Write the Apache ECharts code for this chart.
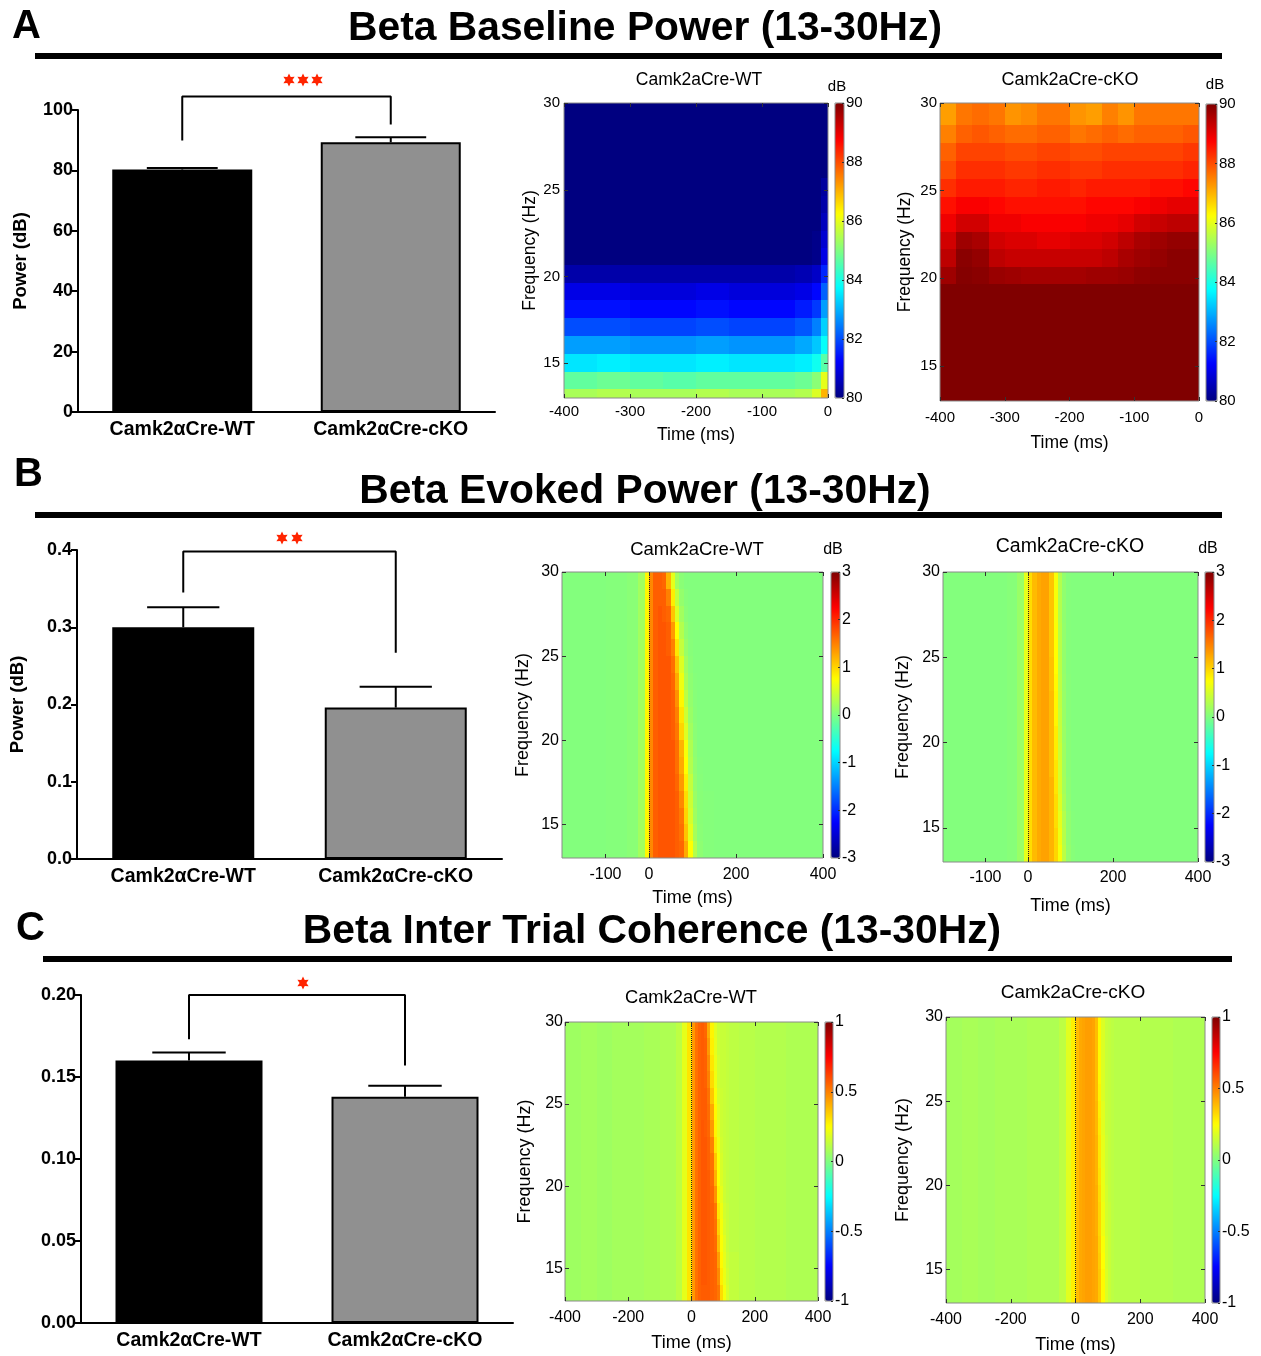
<!DOCTYPE html>
<html><head><meta charset="utf-8">
<script src="https://cdn.jsdelivr.net/npm/echarts@6/dist/echarts.min.js"></script>
<style>html,body{margin:0;padding:0;background:#fff}#c{width:1261px;height:1356px}</style>
</head><body><div id="c"></div>
<script>
// ================= DATA =================
const groups = ['Camk2\u03b1Cre-WT', 'Camk2\u03b1Cre-cKO'];

const baselineMean = [80.3, 89.3];
const baselineSem = [0.5, 1.7];
const baselineBracket = [89.9, 104.5, 95.2];   // left leg end, top, right leg end
const baselineTicks = [0, 20, 40, 60, 80, 100];

const evokedMean = [0.300, 0.196];
const evokedSem = [0.026, 0.027];
const evokedBracket = [0.345, 0.398, 0.267];
const evokedTicks = [0, 0.1, 0.2, 0.3, 0.4];

const itcMean = [0.160, 0.138];
const itcSem = [0.005, 0.0067];
const itcBracket = [0.173, 0.200, 0.157];
const itcTicks = [0, 0.05, 0.10, 0.15, 0.20];

const freqTicks = [15, 20, 25, 30];
const baselineTimeTicks = [-400, -300, -200, -100, 0];
const evokedTimeTicks = [-100, 0, 200, 400];
const itcTimeTicks = [-400, -200, 0, 200, 400];
const baselineCbTicks = [80, 82, 84, 86, 88, 90];
const evokedCbTicks = [-3, -2, -1, 0, 1, 2, 3];
const itcCbTicks = [-1, -0.5, 0, 0.5, 1];

// Baseline power maps (dB); rows = frequency bins bottom->top
const baseFreqEdges = [13, 13.5, 14.5, 15.55, 16.6, 17.6, 18.65, 19.65, 20.65, 21.65, 22.65, 23.65, 24.65, 25.65, 26.7, 27.7, 28.75, 30];
const baseWTTimeEdges = [-400, -350, -300, -250, -200, -150, -100, -50, -25, -10, 0];
const baseWT = [
  [85.4,85.5,85.4,85.4,85.5,85.4,85.4,85.5,85.9,87.0],
  [84.7,84.8,84.7,84.6,84.7,84.7,84.7,84.8,85.1,86.0],
  [83.5,83.6,83.5,83.5,83.6,83.5,83.5,83.6,83.9,84.6],
  [82.8,82.8,82.7,82.7,82.8,82.7,82.7,82.9,83.2,83.8],
  [82.0,82.0,81.9,81.9,82.0,81.9,81.9,82.1,82.5,83.3],
  [81.4,81.4,81.3,81.3,81.4,81.3,81.3,81.5,81.8,82.8],
  [81.0,81.0,80.9,80.9,81.0,80.9,80.9,81.0,81.3,82.2],
  [80.4,80.4,80.4,80.4,80.4,80.4,80.4,80.5,80.7,81.6],
  [80.0,80.0,80.0,80.0,80.0,80.0,80.0,80.0,80.1,81.0],
  [80.0,80.0,80.0,80.0,80.0,80.0,80.0,80.0,80.1,80.8],
  [80.0,80.0,80.0,80.0,80.0,80.0,80.0,80.0,80.0,80.6],
  [80.0,80.0,80.0,80.0,80.0,80.0,80.0,80.0,80.0,80.4],
  [80.0,80.0,80.0,80.0,80.0,80.0,80.0,80.0,80.0,80.3],
  [80.0,80.0,80.0,80.0,80.0,80.0,80.0,80.0,80.0,80.0],
  [80.0,80.0,80.0,80.0,80.0,80.0,80.0,80.0,80.0,80.0],
  [80.0,80.0,80.0,80.0,80.0,80.0,80.0,80.0,80.0,80.0],
  [80.0,80.0,80.0,80.0,80.0,80.0,80.0,80.0,80.0,80.0]
];
const baseKOTimeEdges = [-400, -375, -350, -325, -300, -275, -250, -225, -200, -175, -150, -125, -100, -75, -50, -25, 0];
const baseKO = [
  [90,90,90,90,90,90,90,90,90,90,90,90,90,90,90,90],
  [90,90,90,90,90,90,90,90,90,90,90,90,90,90,90,90],
  [90,90,90,90,90,90,90,90,90,90,90,90,90,90,90,90],
  [90,90,90,90,90,90,90,90,90,90,90,90,90,90,90,90],
  [90,90,90,90,90,90,90,90,90,90,90,90,90,90,90,90],
  [90,90,90,90,90,90,90,90,90,90,90,90,90,90,90,90],
  [90,90,90,90,90,90,90,90,90,90,90,90,90,90,90,90],
  [89.7,89.95,89.9,89.75,89.7,89.65,89.65,89.65,89.65,89.7,89.7,89.75,89.85,89.9,89.9,89.9],
  [89.4,89.9,89.8,89.4,89.3,89.3,89.3,89.3,89.3,89.3,89.4,89.6,89.7,89.8,89.9,89.9],
  [89.2,89.7,89.6,89.2,89.1,89.1,89.0,89.0,89.1,89.1,89.2,89.4,89.6,89.7,89.8,89.8],
  [88.9,89.2,89.2,88.9,88.9,88.8,88.8,88.8,88.8,88.9,88.9,89.0,89.2,89.3,89.4,89.4],
  [88.6,88.8,88.8,88.7,88.6,88.6,88.6,88.6,88.6,88.7,88.7,88.7,88.8,88.9,89.0,89.0],
  [88.3,88.5,88.5,88.5,88.4,88.4,88.5,88.5,88.4,88.5,88.5,88.5,88.5,88.6,88.6,88.7],
  [88.0,88.3,88.3,88.3,88.2,88.2,88.3,88.3,88.2,88.2,88.3,88.3,88.3,88.3,88.3,88.4],
  [87.8,88.1,88.1,88.1,88.0,88.0,88.1,88.1,88.0,88.0,88.1,88.1,88.1,88.1,88.1,88.2],
  [87.5,87.8,87.9,87.8,87.7,87.7,87.8,87.8,87.6,87.7,87.8,87.7,87.8,87.8,87.8,87.9],
  [87.2,87.6,87.7,87.6,87.3,87.4,87.6,87.6,87.3,87.2,87.5,87.3,87.6,87.6,87.6,87.6]
];

// Evoked power maps (dB); rows = 1 Hz bins 13..30 bottom->top
const stimFreqEdges = [13,14,15,16,17,18,19,20,21,22,23,24,25,26,27,28,29,30];
const evokedTimeEdges = [-200,-150,-100,-50,-25,-10,0,10,20,30,40,50,60,70,80,90,100,110,125,150,200,250,300,350,400];
const evokedWT = [
  [0.02,0.02,0.03,0.06,0.2,0.8, 1.45,1.7,1.75,1.75,1.75,1.75,1.7,1.65,1.25,0.75,0.3,0.08,0.03, 0.02,0.02,0.02,0.02,0.02],
  [0.02,0.02,0.03,0.06,0.2,0.8, 1.45,1.7,1.75,1.75,1.75,1.75,1.7,1.6,1.1,0.6,0.22,0.06,0.03, 0.02,0.02,0.02,0.02,0.02],
  [0.02,0.02,0.03,0.06,0.2,0.8, 1.45,1.7,1.75,1.75,1.75,1.75,1.7,1.55,1.0,0.5,0.18,0.05,0.03, 0.02,0.02,0.02,0.02,0.02],
  [0.02,0.02,0.03,0.06,0.2,0.8, 1.45,1.7,1.75,1.75,1.75,1.75,1.7,1.45,0.95,0.45,0.15,0.05,0.03, 0.02,0.02,0.02,0.02,0.02],
  [0.02,0.02,0.03,0.06,0.2,0.8, 1.45,1.7,1.75,1.75,1.75,1.75,1.65,1.35,0.85,0.4,0.12,0.04,0.02, 0.02,0.02,0.02,0.02,0.02],
  [0.02,0.02,0.03,0.06,0.2,0.8, 1.45,1.7,1.75,1.75,1.75,1.75,1.6,1.25,0.75,0.3,0.1,0.03,0.02, 0.02,0.02,0.02,0.02,0.02],
  [0.02,0.02,0.03,0.06,0.2,0.8, 1.45,1.7,1.75,1.75,1.75,1.75,1.6,1.2,0.7,0.28,0.08,0.02,0.02, 0.02,0.02,0.02,0.02,0.02],
  [0.02,0.02,0.03,0.06,0.2,0.8, 1.45,1.7,1.75,1.75,1.75,1.7,1.55,1.0,0.55,0.2,0.06,0.02,0.02, 0.02,0.02,0.02,0.02,0.02],
  [0.02,0.02,0.03,0.06,0.2,0.8, 1.45,1.7,1.75,1.75,1.75,1.7,1.5,0.9,0.45,0.15,0.05,0.02,0.02, 0.02,0.02,0.02,0.02,0.02],
  [0.02,0.02,0.03,0.06,0.2,0.8, 1.45,1.7,1.75,1.75,1.75,1.7,1.4,0.8,0.35,0.12,0.04,0.02,0.02, 0.02,0.02,0.02,0.02,0.02],
  [0.02,0.02,0.03,0.06,0.2,0.8, 1.45,1.7,1.75,1.75,1.75,1.65,1.25,0.65,0.25,0.08,0.03,0.02,0.02, 0.02,0.02,0.02,0.02,0.02],
  [0.02,0.02,0.03,0.06,0.2,0.8, 1.45,1.7,1.75,1.75,1.75,1.6,1.1,0.55,0.2,0.06,0.02,0.02,0.02, 0.02,0.02,0.02,0.02,0.02],
  [0.02,0.02,0.03,0.06,0.2,0.8, 1.45,1.7,1.75,1.75,1.7,1.5,0.9,0.4,0.14,0.04,0.02,0.02,0.02, 0.02,0.02,0.02,0.02,0.02],
  [0.02,0.02,0.03,0.06,0.2,0.8, 1.45,1.7,1.75,1.75,1.7,1.35,0.75,0.3,0.1,0.03,0.02,0.02,0.02, 0.02,0.02,0.02,0.02,0.02],
  [0.02,0.02,0.03,0.06,0.2,0.8, 1.45,1.7,1.75,1.7,1.65,1.1,0.55,0.2,0.06,0.02,0.02,0.02,0.02, 0.02,0.02,0.02,0.02,0.02],
  [0.02,0.02,0.03,0.06,0.2,0.8, 1.45,1.7,1.7,1.7,1.5,0.85,0.4,0.12,0.04,0.02,0.02,0.02,0.02, 0.02,0.02,0.02,0.02,0.02],
  [0.02,0.02,0.03,0.06,0.2,0.8, 1.45,1.7,1.7,1.65,1.2,0.6,0.2,0.06,0.02,0.02,0.02,0.02,0.02, 0.02,0.02,0.02,0.02,0.02]
];
const evokedKO = [
  [0.02,0.02,0.02,0.04,0.15,0.6, 0.95,1.15,1.25,1.3,1.3,1.2,1.0,0.7,0.35,0.12,0.04,0.02,0.02, 0.02,0.02,0.02,0.02,0.02],
  [0.02,0.02,0.02,0.04,0.15,0.6, 0.95,1.15,1.25,1.3,1.3,1.2,1.0,0.65,0.32,0.1,0.03,0.02,0.02, 0.02,0.02,0.02,0.02,0.02],
  [0.02,0.02,0.02,0.04,0.15,0.6, 0.95,1.15,1.25,1.3,1.3,1.2,0.95,0.6,0.3,0.1,0.03,0.02,0.02, 0.02,0.02,0.02,0.02,0.02],
  [0.02,0.02,0.02,0.04,0.15,0.6, 0.95,1.15,1.25,1.3,1.3,1.2,0.95,0.55,0.25,0.08,0.02,0.02,0.02, 0.02,0.02,0.02,0.02,0.02],
  [0.02,0.02,0.02,0.04,0.15,0.6, 0.95,1.15,1.25,1.3,1.3,1.2,0.9,0.5,0.22,0.07,0.02,0.02,0.02, 0.02,0.02,0.02,0.02,0.02],
  [0.02,0.02,0.02,0.04,0.15,0.6, 0.95,1.15,1.25,1.3,1.3,1.15,0.9,0.5,0.2,0.06,0.02,0.02,0.02, 0.02,0.02,0.02,0.02,0.02],
  [0.02,0.02,0.02,0.04,0.15,0.6, 0.95,1.15,1.25,1.3,1.3,1.15,0.85,0.45,0.18,0.05,0.02,0.02,0.02, 0.02,0.02,0.02,0.02,0.02],
  [0.02,0.02,0.02,0.04,0.15,0.6, 0.95,1.15,1.25,1.3,1.3,1.15,0.85,0.42,0.16,0.05,0.02,0.02,0.02, 0.02,0.02,0.02,0.02,0.02],
  [0.02,0.02,0.02,0.04,0.15,0.6, 0.95,1.15,1.25,1.3,1.3,1.15,0.8,0.4,0.15,0.04,0.02,0.02,0.02, 0.02,0.02,0.02,0.02,0.02],
  [0.02,0.02,0.02,0.04,0.15,0.6, 0.95,1.15,1.25,1.3,1.3,1.15,0.8,0.38,0.14,0.04,0.02,0.02,0.02, 0.02,0.02,0.02,0.02,0.02],
  [0.02,0.02,0.02,0.04,0.15,0.6, 0.95,1.15,1.25,1.3,1.3,1.12,0.78,0.36,0.13,0.04,0.02,0.02,0.02, 0.02,0.02,0.02,0.02,0.02],
  [0.02,0.02,0.02,0.04,0.15,0.6, 0.95,1.15,1.25,1.3,1.3,1.12,0.75,0.35,0.12,0.03,0.02,0.02,0.02, 0.02,0.02,0.02,0.02,0.02],
  [0.02,0.02,0.02,0.04,0.15,0.6, 0.95,1.15,1.25,1.3,1.3,1.1,0.75,0.33,0.12,0.03,0.02,0.02,0.02, 0.02,0.02,0.02,0.02,0.02],
  [0.02,0.02,0.02,0.04,0.15,0.6, 0.95,1.15,1.25,1.3,1.3,1.1,0.72,0.32,0.11,0.03,0.02,0.02,0.02, 0.02,0.02,0.02,0.02,0.02],
  [0.02,0.02,0.02,0.04,0.15,0.6, 0.95,1.15,1.25,1.3,1.3,1.1,0.7,0.3,0.1,0.03,0.02,0.02,0.02, 0.02,0.02,0.02,0.02,0.02],
  [0.02,0.02,0.02,0.04,0.15,0.6, 0.95,1.15,1.25,1.3,1.3,1.1,0.7,0.3,0.1,0.03,0.02,0.02,0.02, 0.02,0.02,0.02,0.02,0.02],
  [0.02,0.02,0.02,0.04,0.15,0.6, 0.95,1.15,1.25,1.3,1.3,1.1,0.7,0.3,0.1,0.03,0.02,0.02,0.02, 0.02,0.02,0.02,0.02,0.02]
];

// Inter-trial coherence maps; rows = 1 Hz bins 13..30 bottom->top
const itcTimeEdges = [-400,-350,-300,-250,-200,-150,-100,-50,-30,-15,0,10,20,30,40,50,60,70,80,90,100,110,120,150,200,250,300,350,400];
const itcWT = [
  [0.06,0.07,0.06,0.07,0.07,0.08,0.09,0.12,0.2,0.3, 0.45,0.53,0.56,0.57,0.57,0.57,0.56,0.55,0.52,0.32,0.23,0.17,0.13, 0.11,0.1,0.1,0.09,0.09],
  [0.06,0.07,0.06,0.07,0.07,0.08,0.09,0.12,0.2,0.3, 0.45,0.53,0.56,0.58,0.58,0.57,0.56,0.55,0.48,0.28,0.21,0.16,0.13, 0.11,0.1,0.1,0.09,0.09],
  [0.06,0.07,0.06,0.07,0.07,0.08,0.09,0.12,0.2,0.3, 0.45,0.53,0.56,0.58,0.58,0.57,0.56,0.55,0.44,0.26,0.2,0.15,0.13, 0.11,0.1,0.1,0.09,0.09],
  [0.06,0.07,0.06,0.07,0.07,0.08,0.09,0.12,0.2,0.3, 0.45,0.53,0.56,0.58,0.58,0.57,0.56,0.54,0.38,0.24,0.19,0.14,0.12, 0.11,0.1,0.1,0.09,0.09],
  [0.06,0.07,0.06,0.07,0.07,0.08,0.09,0.12,0.2,0.3, 0.45,0.53,0.56,0.58,0.58,0.57,0.56,0.53,0.34,0.23,0.17,0.14,0.12, 0.11,0.1,0.1,0.09,0.09],
  [0.06,0.07,0.06,0.07,0.07,0.08,0.09,0.12,0.2,0.3, 0.45,0.53,0.56,0.58,0.58,0.57,0.56,0.52,0.3,0.22,0.16,0.14,0.12, 0.11,0.1,0.1,0.09,0.09],
  [0.06,0.07,0.06,0.07,0.07,0.08,0.09,0.12,0.2,0.3, 0.45,0.53,0.56,0.58,0.58,0.57,0.55,0.46,0.27,0.2,0.15,0.13,0.12, 0.11,0.1,0.1,0.09,0.09],
  [0.06,0.07,0.06,0.07,0.07,0.08,0.09,0.12,0.2,0.3, 0.45,0.53,0.56,0.58,0.58,0.57,0.54,0.4,0.25,0.18,0.15,0.13,0.12, 0.11,0.1,0.1,0.09,0.09],
  [0.06,0.07,0.06,0.07,0.07,0.08,0.09,0.12,0.2,0.3, 0.45,0.53,0.56,0.58,0.58,0.56,0.53,0.36,0.24,0.17,0.14,0.13,0.12, 0.11,0.1,0.1,0.09,0.09],
  [0.06,0.07,0.06,0.07,0.07,0.08,0.09,0.12,0.2,0.3, 0.45,0.53,0.56,0.58,0.58,0.56,0.5,0.3,0.22,0.16,0.14,0.13,0.12, 0.11,0.1,0.1,0.09,0.09],
  [0.06,0.07,0.06,0.07,0.07,0.08,0.09,0.12,0.2,0.3, 0.45,0.53,0.56,0.58,0.57,0.55,0.45,0.27,0.2,0.15,0.14,0.13,0.12, 0.11,0.1,0.1,0.09,0.09],
  [0.06,0.07,0.06,0.07,0.07,0.08,0.09,0.12,0.2,0.3, 0.45,0.53,0.56,0.57,0.57,0.54,0.42,0.26,0.19,0.15,0.14,0.13,0.12, 0.11,0.1,0.1,0.09,0.09],
  [0.06,0.07,0.06,0.07,0.07,0.08,0.09,0.12,0.2,0.3, 0.45,0.53,0.56,0.57,0.57,0.53,0.36,0.24,0.17,0.15,0.14,0.13,0.12, 0.11,0.1,0.1,0.09,0.09],
  [0.06,0.07,0.06,0.07,0.07,0.08,0.09,0.12,0.2,0.3, 0.45,0.53,0.56,0.57,0.56,0.5,0.32,0.22,0.16,0.14,0.14,0.13,0.12, 0.11,0.1,0.1,0.09,0.09],
  [0.06,0.07,0.06,0.07,0.07,0.08,0.09,0.12,0.2,0.3, 0.45,0.53,0.56,0.57,0.56,0.48,0.3,0.21,0.16,0.14,0.14,0.13,0.12, 0.11,0.1,0.1,0.09,0.09],
  [0.06,0.07,0.06,0.07,0.07,0.08,0.09,0.12,0.2,0.3, 0.45,0.53,0.56,0.57,0.56,0.45,0.28,0.2,0.15,0.14,0.14,0.13,0.12, 0.11,0.1,0.1,0.09,0.09],
  [0.06,0.07,0.06,0.07,0.07,0.08,0.09,0.12,0.2,0.3, 0.45,0.53,0.56,0.57,0.55,0.42,0.27,0.19,0.15,0.14,0.14,0.13,0.12, 0.11,0.1,0.1,0.09,0.09]
];
const itcKO = [
  [0.07,0.08,0.07,0.08,0.08,0.09,0.09,0.12,0.19,0.28, 0.38,0.42,0.43,0.44,0.44,0.43,0.42,0.36,0.26,0.18,0.14,0.12,0.11, 0.11,0.1,0.1,0.09,0.09],
  [0.07,0.08,0.07,0.08,0.08,0.09,0.09,0.12,0.19,0.28, 0.38,0.42,0.43,0.44,0.44,0.43,0.42,0.36,0.26,0.18,0.14,0.12,0.11, 0.11,0.1,0.1,0.09,0.09],
  [0.07,0.08,0.07,0.08,0.08,0.09,0.09,0.12,0.19,0.28, 0.38,0.42,0.43,0.44,0.44,0.43,0.42,0.35,0.25,0.17,0.14,0.12,0.11, 0.11,0.1,0.1,0.09,0.09],
  [0.07,0.08,0.07,0.08,0.08,0.09,0.09,0.12,0.19,0.28, 0.38,0.42,0.43,0.44,0.44,0.43,0.42,0.34,0.24,0.17,0.14,0.12,0.11, 0.11,0.1,0.1,0.09,0.09],
  [0.07,0.08,0.07,0.08,0.08,0.09,0.09,0.12,0.19,0.28, 0.38,0.42,0.43,0.44,0.44,0.43,0.41,0.33,0.22,0.16,0.14,0.12,0.11, 0.11,0.1,0.1,0.09,0.09],
  [0.07,0.08,0.07,0.08,0.08,0.09,0.09,0.12,0.19,0.28, 0.38,0.42,0.43,0.44,0.44,0.43,0.41,0.33,0.22,0.16,0.14,0.12,0.11, 0.11,0.1,0.1,0.09,0.09],
  [0.07,0.08,0.07,0.08,0.08,0.09,0.09,0.12,0.19,0.28, 0.38,0.42,0.43,0.44,0.44,0.43,0.41,0.32,0.21,0.16,0.13,0.12,0.11, 0.11,0.1,0.1,0.09,0.09],
  [0.07,0.08,0.07,0.08,0.08,0.09,0.09,0.12,0.19,0.28, 0.38,0.42,0.43,0.44,0.44,0.43,0.4,0.31,0.21,0.15,0.13,0.12,0.11, 0.11,0.1,0.1,0.09,0.09],
  [0.07,0.08,0.07,0.08,0.08,0.09,0.09,0.12,0.19,0.28, 0.38,0.42,0.43,0.44,0.44,0.43,0.4,0.3,0.2,0.15,0.13,0.12,0.11, 0.11,0.1,0.1,0.09,0.09],
  [0.07,0.08,0.07,0.08,0.08,0.09,0.09,0.12,0.19,0.28, 0.38,0.42,0.43,0.44,0.44,0.43,0.4,0.3,0.2,0.15,0.13,0.12,0.11, 0.11,0.1,0.1,0.09,0.09],
  [0.07,0.08,0.07,0.08,0.08,0.09,0.09,0.12,0.19,0.28, 0.38,0.42,0.43,0.44,0.44,0.43,0.39,0.29,0.19,0.14,0.13,0.12,0.11, 0.11,0.1,0.1,0.09,0.09],
  [0.07,0.08,0.07,0.08,0.08,0.09,0.09,0.12,0.19,0.28, 0.38,0.42,0.43,0.44,0.44,0.43,0.39,0.28,0.19,0.14,0.13,0.12,0.11, 0.11,0.1,0.1,0.09,0.09],
  [0.07,0.08,0.07,0.08,0.08,0.09,0.09,0.12,0.19,0.28, 0.38,0.42,0.43,0.44,0.44,0.43,0.38,0.27,0.18,0.14,0.13,0.12,0.11, 0.11,0.1,0.1,0.09,0.09],
  [0.07,0.08,0.07,0.08,0.08,0.09,0.09,0.12,0.19,0.28, 0.38,0.42,0.43,0.44,0.44,0.43,0.38,0.26,0.18,0.14,0.13,0.12,0.11, 0.11,0.1,0.1,0.09,0.09],
  [0.07,0.08,0.07,0.08,0.08,0.09,0.09,0.12,0.19,0.28, 0.38,0.42,0.43,0.44,0.44,0.43,0.38,0.26,0.18,0.14,0.13,0.12,0.11, 0.11,0.1,0.1,0.09,0.09],
  [0.07,0.08,0.07,0.08,0.08,0.09,0.09,0.12,0.19,0.28, 0.38,0.42,0.43,0.44,0.44,0.43,0.38,0.26,0.18,0.14,0.13,0.12,0.11, 0.11,0.1,0.1,0.09,0.09],
  [0.07,0.08,0.07,0.08,0.08,0.09,0.09,0.12,0.19,0.28, 0.38,0.42,0.43,0.44,0.44,0.43,0.38,0.26,0.18,0.14,0.13,0.12,0.11, 0.11,0.1,0.1,0.09,0.09]
];

// ================= BUILD =================
const FONT = "'Liberation Sans', Arial, Helvetica, sans-serif";
const jet = ['#000080','#0000ff','#0080ff','#00ffff','#80ff80','#ffff00','#ff8000','#ff0000','#800000'];

function cells(timeEdges, freqEdges, rows) {
  const out = [];
  rows.forEach((row, i) => row.forEach((v, j) => {
    out.push([timeEdges[j], timeEdges[j + 1], freqEdges[i], freqEdges[i + 1], v]);
  }));
  return out;
}

const option = { animation: false, backgroundColor: '#fff', grid: [], xAxis: [], yAxis: [], series: [], visualMap: [], graphic: [] };

function text(x, y, str, font, align, vAlign, fill) {
  option.graphic.push({ type: 'text', x: x, y: y, silent: true, z: 100,
    style: { text: str, font: font, fill: fill || '#000', align: align, verticalAlign: vAlign,
             textAlign: align, textVerticalAlign: vAlign } });
}
function star(cx, cy) {
  const pts = [];
  for (let k = 0; k < 12; k++) {
    const a = -Math.PI / 2 + k * Math.PI / 6;
    const r = k % 2 === 0 ? 6.5 : 3.4;
    pts.push([cx + r * Math.cos(a), cy + r * Math.sin(a)]);
  }
  option.graphic.push({ type: 'polygon', silent: true, z: 100, shape: { points: pts }, style: { fill: '#ff2400' } });
}

// ---------- bar panels ----------
const barPanels = [
  { rect: [78, 110, 417, 302], mean: baselineMean, sem: baselineSem, bracket: baselineBracket, ticks: baselineTicks, dec: 0,
    name: 'Power (dB)', nameGap: 48, barWidth: 140, stars: [[289, 80], [303, 80], [317, 80]] },
  { rect: [77, 550, 425, 309], mean: evokedMean, sem: evokedSem, bracket: evokedBracket, ticks: evokedTicks, dec: 1,
    name: 'Power (dB)', nameGap: 50, barWidth: 142, stars: [[282, 538], [297, 538]] },
  { rect: [81, 995, 432, 328], mean: itcMean, sem: itcSem, bracket: itcBracket, ticks: itcTicks, dec: 2,
    name: '', nameGap: 50, barWidth: 147, stars: [[303, 983]] }
];

barPanels.forEach(p => {
  const g = option.grid.length;
  option.grid.push({ left: p.rect[0], top: p.rect[1], width: p.rect[2], height: p.rect[3] });
  const xi = option.xAxis.length, yi = option.yAxis.length;
  option.xAxis.push({ gridIndex: g, type: 'category', data: groups,
    axisLine: { lineStyle: { color: '#000', width: 2 } },
    axisTick: { alignWithLabel: true, length: 6, lineStyle: { color: '#000', width: 2 } },
    axisLabel: { color: '#000', fontFamily: FONT, fontWeight: 'bold', fontSize: 19.5, margin: 8 } });
  const t = p.ticks;
  option.yAxis.push({ gridIndex: g, type: 'value', min: t[0], max: t[t.length - 1], interval: t[1] - t[0],
    axisLine: { show: true, onZero: false, lineStyle: { color: '#000', width: 2 } },
    axisTick: { show: true, length: 6, lineStyle: { color: '#000', width: 2 } },
    splitLine: { show: false },
    axisLabel: { color: '#000', fontFamily: FONT, fontWeight: 'bold', fontSize: 18, margin: 5,
                 formatter: v => v.toFixed(p.dec) },
    name: p.name, nameLocation: 'middle', nameRotate: 90, nameGap: p.nameGap,
    nameTextStyle: { color: '#000', fontFamily: FONT, fontWeight: 'bold', fontSize: 18.5 } });
  option.series.push({ type: 'bar', xAxisIndex: xi, yAxisIndex: yi, barWidth: p.barWidth, z: 2,
    data: p.mean.map((v, i) => ({ value: v, itemStyle: i === 0
      ? { color: '#000', borderColor: '#000', borderWidth: 2 }
      : { color: '#909090', borderColor: '#000', borderWidth: 2 } })) });
  option.series.push({ type: 'custom', xAxisIndex: xi, yAxisIndex: yi, z: 3, clip: false,
    encode: { x: 0, y: [1, 2] },
    data: p.mean.map((m, i) => [i, m, m + p.sem[i]]),
    renderItem: (params, api) => {
      const x = api.value(0);
      const lo = api.coord([x, api.value(1)]);
      const hi = api.coord([x, api.value(2)]);
      const half = api.size([1, 0])[0] * 0.17;
      return { type: 'group', children: [
        { type: 'line', shape: { x1: lo[0], y1: lo[1], x2: hi[0], y2: hi[1] }, style: { stroke: '#000', lineWidth: 2 } },
        { type: 'line', shape: { x1: hi[0] - half, y1: hi[1], x2: hi[0] + half, y2: hi[1] }, style: { stroke: '#000', lineWidth: 2 } }
      ] };
    } });
  const b = p.bracket;
  option.series.push({ type: 'line', xAxisIndex: xi, yAxisIndex: yi, z: 4, clip: false, symbol: 'none', silent: true,
    lineStyle: { color: '#000', width: 2 },
    data: [[0, b[0]], [0, b[1]], [1, b[1]], [1, b[2]]] });
  p.stars.forEach(s => star(s[0], s[1]));
});

// ---------- heatmap panels ----------
const heatPanels = [
  { title: 'Camk2aCre-WT', titlePos: [699, 80], titleSize: 17.5, dB: [837, 87],
    rect: [564, 103, 264, 295], cb: [835, 103, 9, 295], t: [-400, 0], tTicks: baselineTimeTicks,
    data: cells(baseWTTimeEdges, baseFreqEdges, baseWT), cbTicks: baselineCbTicks,
    font: 15, nameFont: 17.5, xm: 6, xng: 28, ym: 4, yng: 25, zero: false },
  { title: 'Camk2aCre-cKO', titlePos: [1070, 80], titleSize: 18, dB: [1215, 85],
    rect: [940, 103, 259, 298], cb: [1206, 104, 11, 297], t: [-400, 0], tTicks: baselineTimeTicks,
    data: cells(baseKOTimeEdges, baseFreqEdges, baseKO), cbTicks: baselineCbTicks,
    font: 15, nameFont: 17.5, xm: 9, xng: 33, ym: 3, yng: 26, zero: false },
  { title: 'Camk2aCre-WT', titlePos: [697, 550], titleSize: 18.5, dB: [833, 550],
    rect: [562, 572, 261, 286], cb: [831, 572, 9, 286], t: [-200, 400], tTicks: evokedTimeTicks,
    data: cells(evokedTimeEdges, stimFreqEdges, evokedWT), cbTicks: evokedCbTicks,
    font: 16, nameFont: 18, xm: 9, xng: 31, ym: 3, yng: 30, zero: true },
  { title: 'Camk2aCre-cKO', titlePos: [1070, 547], titleSize: 19.5, dB: [1208, 549],
    rect: [943, 572, 255, 290], cb: [1205, 572, 9, 290], t: [-200, 400], tTicks: evokedTimeTicks,
    data: cells(evokedTimeEdges, stimFreqEdges, evokedKO), cbTicks: evokedCbTicks,
    font: 16, nameFont: 18, xm: 8, xng: 35, ym: 3, yng: 31, zero: true },
  { title: 'Camk2aCre-WT', titlePos: [691, 998], titleSize: 18.3, dB: null,
    rect: [565, 1022, 253, 279], cb: [825, 1022, 8, 279], t: [-400, 400], tTicks: itcTimeTicks,
    data: cells(itcTimeEdges, stimFreqEdges, itcWT), cbTicks: itcCbTicks,
    font: 16, nameFont: 18, xm: 9, xng: 33, ym: 2, yng: 31, zero: true },
  { title: 'Camk2aCre-cKO', titlePos: [1073, 993], titleSize: 19, dB: null,
    rect: [946, 1017, 259, 286], cb: [1212, 1017, 8, 286], t: [-400, 400], tTicks: itcTimeTicks,
    data: cells(itcTimeEdges, stimFreqEdges, itcKO), cbTicks: itcCbTicks,
    font: 16, nameFont: 18, xm: 9, xng: 33, ym: 3, yng: 34, zero: true }
];

function renderCell(params, api) {
  const p0 = api.coord([api.value(0), api.value(3)]);
  const p1 = api.coord([api.value(1), api.value(2)]);
  const x0 = Math.round(p0[0]), x1 = Math.round(p1[0]);
  const y0 = Math.round(p0[1]), y1 = Math.round(p1[1]);
  return { type: 'rect', shape: { x: x0, y: y0, width: x1 - x0, height: y1 - y0 },
           style: { fill: api.visual('color'), stroke: null } };
}

const tickStyle = { color: '#333', width: 1 };
heatPanels.forEach(p => {
  const g = option.grid.length;
  option.grid.push({ left: p.rect[0], top: p.rect[1], width: p.rect[2], height: p.rect[3],
    show: true, borderColor: '#8a8a8a', borderWidth: 1, backgroundColor: 'transparent', z: 6 });
  const xi = option.xAxis.length, yi = option.yAxis.length;
  const labelStyle = { color: '#000', fontFamily: FONT, fontSize: p.font };
  const hiddenLine = { show: false, onZero: false };
  option.xAxis.push({ gridIndex: g, type: 'value', min: p.t[0], max: p.t[1], z: 6,
    axisLine: hiddenLine, splitLine: { show: false },
    axisTick: { show: true, inside: true, length: 4, lineStyle: tickStyle, customValues: p.tTicks },
    axisLabel: Object.assign({ margin: p.xm, customValues: p.tTicks }, labelStyle),
    name: 'Time (ms)', nameLocation: 'middle', nameGap: p.xng,
    nameTextStyle: { color: '#000', fontFamily: FONT, fontSize: p.nameFont } });
  option.xAxis.push({ gridIndex: g, type: 'value', position: 'top', min: p.t[0], max: p.t[1], z: 6,
    axisLine: hiddenLine, splitLine: { show: false }, axisLabel: { show: false },
    axisTick: { show: true, inside: true, length: 4, lineStyle: tickStyle, customValues: p.tTicks } });
  option.yAxis.push({ gridIndex: g, type: 'value', position: 'left', min: 13, max: 30, z: 6,
    axisLine: hiddenLine, splitLine: { show: false },
    axisTick: { show: true, inside: true, length: 4, lineStyle: tickStyle, customValues: freqTicks },
    axisLabel: Object.assign({ margin: p.ym, customValues: freqTicks }, labelStyle),
    name: 'Frequency (Hz)', nameLocation: 'middle', nameRotate: 90, nameGap: p.yng,
    nameTextStyle: { color: '#000', fontFamily: FONT, fontSize: p.nameFont } });
  option.yAxis.push({ gridIndex: g, type: 'value', position: 'right', min: 13, max: 30, z: 6,
    axisLine: hiddenLine, splitLine: { show: false }, axisLabel: { show: false },
    axisTick: { show: true, inside: true, length: 4, lineStyle: tickStyle, customValues: freqTicks } });
  const si = option.series.length;
  const s = { type: 'custom', xAxisIndex: xi, yAxisIndex: yi, clip: true, z: 2, silent: true,
    encode: { x: [0, 1], y: [2, 3] }, data: p.data, renderItem: renderCell };
  if (p.zero) {
    s.markLine = { silent: true, symbol: 'none', label: { show: false }, animation: false,
      lineStyle: { color: '#222', type: 'dotted', width: 1 }, data: [{ xAxis: 0 }] };
  }
  option.series.push(s);
  const ct = p.cbTicks;
  option.visualMap.push({ type: 'continuous', seriesIndex: si, dimension: 4, min: ct[0], max: ct[ct.length - 1],
    inRange: { color: jet }, calculable: false, show: true, orient: 'vertical', padding: 0, hoverLink: false,
    left: p.cb[0], top: p.cb[1], itemWidth: p.cb[2], itemHeight: p.cb[3], text: null, realtime: false });
  // colorbar frame + tick labels
  const cg = option.grid.length;
  option.grid.push({ left: p.cb[0], top: p.cb[1], width: p.cb[2], height: p.cb[3],
    show: true, borderColor: '#8a8a8a', borderWidth: 1, backgroundColor: 'transparent', z: 6 });
  option.xAxis.push({ gridIndex: cg, type: 'value', show: false, min: 0, max: 1, axisLine: hiddenLine });
  option.yAxis.push({ gridIndex: cg, type: 'value', position: 'right', min: ct[0], max: ct[ct.length - 1],
    interval: ct[1] - ct[0], z: 6,
    axisLine: hiddenLine, splitLine: { show: false },
    axisTick: { show: true, inside: true, length: 2, lineStyle: tickStyle },
    axisLabel: Object.assign({ margin: 2 }, labelStyle) });
  text(p.titlePos[0], p.titlePos[1], p.title, p.titleSize + 'px ' + FONT, 'center', 'middle');
  if (p.dB) text(p.dB[0], p.dB[1], 'dB', p.font + 'px ' + FONT, 'center', 'middle');
});

// ---------- figure titles, panel letters, rules ----------
text(12, 27, 'A', 'bold 40px ' + FONT, 'left', 'middle');
text(14, 475, 'B', 'bold 40px ' + FONT, 'left', 'middle');
text(16, 929, 'C', 'bold 40px ' + FONT, 'left', 'middle');
text(645, 29, 'Beta Baseline Power (13-30Hz)', 'bold 40.8px ' + FONT, 'center', 'middle');
text(645, 492, 'Beta Evoked Power (13-30Hz)', 'bold 40.8px ' + FONT, 'center', 'middle');
text(652, 932, 'Beta Inter Trial Coherence (13-30Hz)', 'bold 40.8px ' + FONT, 'center', 'middle');
[[35, 53, 1187], [35, 512, 1187], [43, 956, 1189]].forEach(r => {
  option.graphic.push({ type: 'rect', silent: true, z: 100, shape: { x: r[0], y: r[1], width: r[2], height: 6 }, style: { fill: '#000' } });
});

const chart = echarts.init(document.getElementById('c'), null, { renderer: 'canvas' });
chart.setOption(option);
</script>
</body></html>
